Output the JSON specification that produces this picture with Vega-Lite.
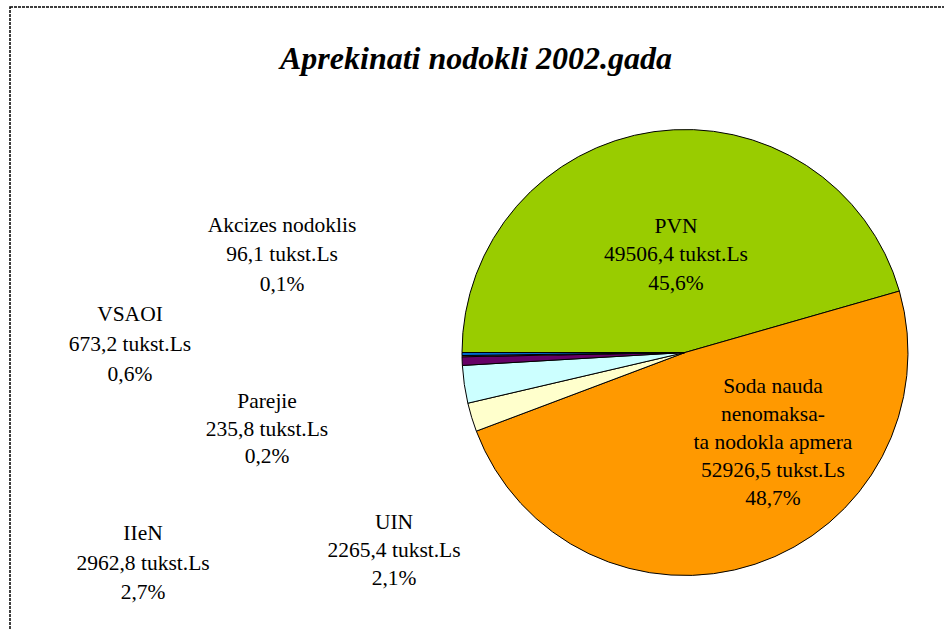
{
  "$schema": "https://vega.github.io/schema/vega-lite/v6.json",
  "autosize": {"type": "none"},
  "width": 954,
  "height": 643,
  "padding": {"left": 10, "top": 7, "right": -20, "bottom": -20},
  "background": "#ffffff",
  "title": {
    "text": "Aprekinati nodokli 2002.gada",
    "font": "Liberation Serif",
    "fontSize": 32,
    "fontStyle": "italic",
    "fontWeight": "bold",
    "color": "#000000",
    "anchor": "middle",
    "dx": -11,
    "offset": -70
  },
  "config": {
    "view": {"stroke": null}
  },
  "data": {
    "values": [
      {"name": "PVN", "order": 1, "value": 49506.4, "label": "PVN\n49506,4 tukst.Ls\n45,6%"},
      {"name": "Soda nauda", "order": 2, "value": 52926.5, "label": "Soda nauda\nnenomaksa-\nta nodokla apmera\n52926,5 tukst.Ls\n48,7%"},
      {"name": "UIN", "order": 3, "value": 2265.4, "label": "UIN\n2265,4 tukst.Ls\n2,1%"},
      {"name": "IIeN", "order": 4, "value": 2962.8, "label": "IIeN\n2962,8 tukst.Ls\n2,7%"},
      {"name": "VSAOI", "order": 5, "value": 673.2, "label": "VSAOI\n673,2 tukst.Ls\n0,6%"},
      {"name": "Akcizes nodoklis", "order": 6, "value": 96.1, "label": "Akcizes nodoklis\n96,1 tukst.Ls\n0,1%"},
      {"name": "Parejie", "order": 7, "value": 235.8, "label": "Parejie\n235,8 tukst.Ls\n0,2%"}
    ]
  },
  "layer": [
    {
      "transform": [{"aggregate": [{"op": "count", "as": "n"}]}],
      "mark": {"type": "rect", "fill": "transparent", "stroke": "#000000", "strokeDash": [3, 1], "strokeWidth": 1.5},
      "encoding": {}
    },
    {
      "mark": {"type": "arc", "radius": 223, "stroke": "#000000", "strokeWidth": 1, "xOffset": 198, "yOffset": 24},
      "encoding": {
        "theta": {"field": "value", "type": "quantitative", "stack": true, "scale": {"range": [4.712389, 10.995574]}},
        "order": {"field": "order", "type": "quantitative"},
        "color": {
          "field": "name",
          "type": "nominal",
          "legend": null,
          "scale": {
            "domain": ["PVN", "Soda nauda", "UIN", "IIeN", "VSAOI", "Akcizes nodoklis", "Parejie"],
            "range": ["#99CC00", "#FF9900", "#FFFFCC", "#CCFFFF", "#660066", "#FF8080", "#0066CC"]
          }
        }
      }
    },
    {
      "transform": [
        {"stack": "value", "groupby": [], "sort": [{"field": "order"}], "as": ["v0", "v1"]},
        {"filter": "datum.name === 'PVN'"}
      ],
      "mark": {"type": "text", "radius": 111.5, "xOffset": 198, "yOffset": 24, "dx": 102.5, "dy": -120, "align": "center", "baseline": "alphabetic", "lineBreak": "\n", "lineHeight": 28.5, "font": "Liberation Serif", "fontSize": 21.5, "color": "#000000"},
      "encoding": {"theta": {"field": "v0", "type": "quantitative", "stack": null}, "text": {"field": "label"}}
    },
    {
      "transform": [
        {"stack": "value", "groupby": [], "sort": [{"field": "order"}], "as": ["v0", "v1"]},
        {"filter": "datum.name === 'Soda nauda'"}
      ],
      "mark": {"type": "text", "radius": 111.5, "xOffset": 198, "yOffset": 24, "dx": -19.2, "dy": 71.2, "align": "center", "baseline": "alphabetic", "lineBreak": "\n", "lineHeight": 28, "font": "Liberation Serif", "fontSize": 21.5, "color": "#000000"},
      "encoding": {"theta": {"field": "v0", "type": "quantitative", "stack": null}, "text": {"field": "label"}}
    },
    {
      "transform": [
        {"stack": "value", "groupby": [], "sort": [{"field": "order"}], "as": ["v0", "v1"]},
        {"filter": "datum.name === 'UIN'"}
      ],
      "mark": {"type": "text", "radius": 223, "xOffset": 198, "yOffset": 24, "dx": -82.3, "dy": 98, "align": "center", "baseline": "alphabetic", "lineBreak": "\n", "lineHeight": 28, "font": "Liberation Serif", "fontSize": 21.5, "color": "#000000"},
      "encoding": {"theta": {"field": "v0", "type": "quantitative", "stack": null}, "text": {"field": "label"}}
    },
    {
      "transform": [
        {"stack": "value", "groupby": [], "sort": [{"field": "order"}], "as": ["v0", "v1"]},
        {"filter": "datum.name === 'IIeN'"}
      ],
      "mark": {"type": "text", "radius": 223, "xOffset": 198, "yOffset": 24, "dx": -324.8, "dy": 137, "align": "center", "baseline": "alphabetic", "lineBreak": "\n", "lineHeight": 29.5, "font": "Liberation Serif", "fontSize": 21.5, "color": "#000000"},
      "encoding": {"theta": {"field": "v0", "type": "quantitative", "stack": null}, "text": {"field": "label"}}
    },
    {
      "transform": [
        {"stack": "value", "groupby": [], "sort": [{"field": "order"}], "as": ["v0", "v1"]},
        {"filter": "datum.name === 'VSAOI'"}
      ],
      "mark": {"type": "text", "radius": 223, "xOffset": 198, "yOffset": 24, "dx": -332.4, "dy": -44, "align": "center", "baseline": "alphabetic", "lineBreak": "\n", "lineHeight": 30, "font": "Liberation Serif", "fontSize": 21.5, "color": "#000000"},
      "encoding": {"theta": {"field": "v0", "type": "quantitative", "stack": null}, "text": {"field": "label"}}
    },
    {
      "transform": [
        {"stack": "value", "groupby": [], "sort": [{"field": "order"}], "as": ["v0", "v1"]},
        {"filter": "datum.name === 'Akcizes nodoklis'"}
      ],
      "mark": {"type": "text", "radius": 223, "xOffset": 198, "yOffset": 24, "dx": -180, "dy": -125, "align": "center", "baseline": "alphabetic", "lineBreak": "\n", "lineHeight": 29.5, "font": "Liberation Serif", "fontSize": 21.5, "color": "#000000"},
      "encoding": {"theta": {"field": "v0", "type": "quantitative", "stack": null}, "text": {"field": "label"}}
    },
    {
      "transform": [
        {"stack": "value", "groupby": [], "sort": [{"field": "order"}], "as": ["v0", "v1"]},
        {"filter": "datum.name === 'Parejie'"}
      ],
      "mark": {"type": "text", "radius": 223, "xOffset": 198, "yOffset": 24, "dx": -195, "dy": 52.5, "align": "center", "baseline": "alphabetic", "lineBreak": "\n", "lineHeight": 27.5, "font": "Liberation Serif", "fontSize": 21.5, "color": "#000000"},
      "encoding": {"theta": {"field": "v0", "type": "quantitative", "stack": null}, "text": {"field": "label"}}
    }
  ]
}
